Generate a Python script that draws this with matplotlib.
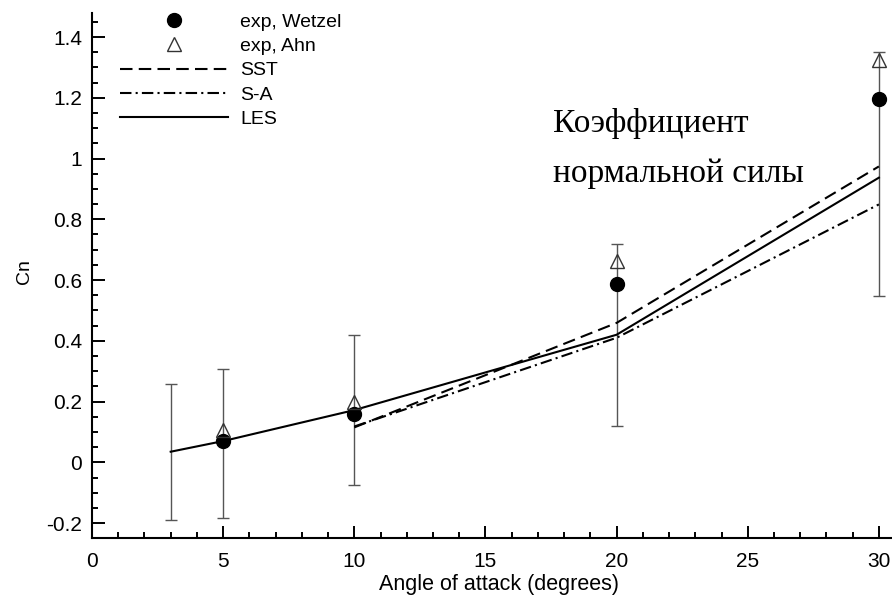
import numpy as np
import matplotlib
matplotlib.use('Agg')
import matplotlib.pyplot as plt
from matplotlib.ticker import MultipleLocator

# experimental points
wetzel_x = [5, 10, 20, 30]
wetzel_cn = [0.07, 0.16, 0.587, 1.197]
ahn_x = [5, 10, 20, 30]
ahn_cn = [0.105, 0.197, 0.662, 1.325]

# error bars (lower / upper bounds)
err_x = [3, 5, 10, 20, 30]
err_lo = [-0.19, -0.184, -0.075, 0.118, 0.547]
err_hi = [0.259, 0.308, 0.42, 0.718, 1.35]

# computations
les_x = [3, 5, 10, 20, 30]
les_cn = [0.035, 0.07, 0.172, 0.42, 0.937]
sst_x = [10, 20, 30]
sst_cn = [0.115, 0.459, 0.974]
sa_x = [10, 20, 30]
sa_cn = [0.118, 0.41, 0.849]

plt.rcParams['font.family'] = ['Liberation Sans', 'DejaVu Sans']

fig = plt.figure(figsize=(8.92, 6.0), dpi=100)
ax = fig.add_axes([92/892, 62/600, 800/892, 525/600])

err_lo = np.array(err_lo)
err_hi = np.array(err_hi)
mid = (err_lo + err_hi) / 2
ax.errorbar(err_x, mid, yerr=[mid - err_lo, err_hi - mid], fmt='none',
            ecolor='#555555', elinewidth=1.0, capsize=4.3, capthick=1.0, zorder=1)

ax.plot(sst_x, sst_cn, color='black', lw=1.5, dashes=(6, 3), label='SST', zorder=2)
ax.plot(sa_x, sa_cn, color='black', lw=1.5, dashes=(5.5, 2, 1, 2), label='S-A', zorder=2)
ax.plot(les_x, les_cn, color='black', lw=1.5, label='LES', zorder=2)

ax.plot(wetzel_x, wetzel_cn, 'o', color='black', ms=10, label='exp, Wetzel', zorder=3)
ax.plot(ahn_x, ahn_cn, '^', mfc='none', mec='#333333', mew=1.0, ms=10, label='exp, Ahn', zorder=3)

ax.set_xlim(0, 30.5)
ax.set_ylim(-0.249, 1.479)
ax.xaxis.set_major_locator(MultipleLocator(5))
ax.xaxis.set_minor_locator(MultipleLocator(1))
ax.yaxis.set_minor_locator(MultipleLocator(0.05))
ax.set_yticks([-0.2, 0, 0.2, 0.4, 0.6, 0.8, 1, 1.2, 1.4])
ax.set_yticklabels(['-0.2', '0', '0.2', '0.4', '0.6', '0.8', '1', '1.2', '1.4'])

ax.tick_params(which='both', direction='in', width=1.4, labelsize=15)
ax.tick_params(axis='x', which='major', length=8.5, pad=10)
ax.tick_params(axis='y', which='major', length=9, pad=7)
ax.tick_params(which='minor', length=4)
for s in ['top', 'right']:
    ax.spines[s].set_visible(False)
for s in ['left', 'bottom']:
    ax.spines[s].set_linewidth(1.5)

ax.set_xlabel('Angle of attack (degrees)', fontsize=15.5)
ax.xaxis.set_label_coords(0.509, -0.068)
ax.set_ylabel('Cn', fontsize=14)
ax.yaxis.set_label_coords(-0.074, 0.507)

h, l = ax.get_legend_handles_labels()
order = [3, 4, 0, 1, 2]
ax.legend([h[i] for i in order], [l[i] for i in order], loc='upper left',
          bbox_to_anchor=(120/892, 1 - 13/600), bbox_transform=fig.transFigure,
          frameon=False, fontsize=14, handlelength=5.55, handletextpad=0.62,
          labelspacing=0.35, borderpad=0, borderaxespad=0)

fig.text(553/892, 1 - 132/600, 'Коэффициент', family='Liberation Serif',
         fontsize=24, va='baseline', ha='left')
fig.text(553/892, 1 - 182/600, 'нормальной силы', family='Liberation Serif',
         fontsize=24, va='baseline', ha='left')

fig.savefig('out.png', dpi=100)
